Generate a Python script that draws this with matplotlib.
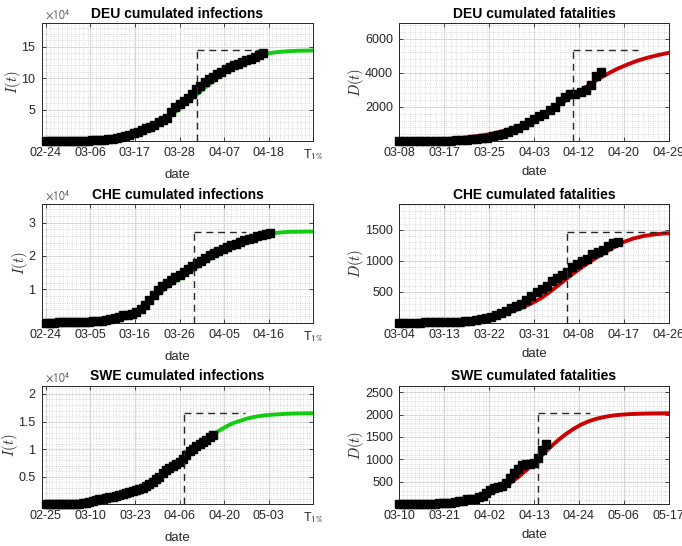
import numpy as np
import matplotlib.pyplot as plt
from matplotlib.ticker import MultipleLocator, AutoMinorLocator, FuncFormatter

plt.rcParams['font.family'] = ['Liberation Sans', 'DejaVu Sans']

T1 = r'T$_{1\%}$'

# ---- DEU (infections: days from 02-24, fatalities: days from 03-08)
deu_inf = [16, 18, 21, 26, 53, 130, 150, 200, 400, 600, 800, 1000, 1200, 1600, 2000,
           3000, 4000, 5500, 7000, 8500, 10000, 12500, 15000, 18000, 20500, 23000, 26000,
           30000, 33000, 37000, 46000, 54000, 59000, 63000, 68000, 74000, 82000, 88000,
           94000, 98000, 102000, 106000, 110000, 114000, 118000, 121000, 123000, 125000,
           128000, 130000, 133000, 136000, 139000]
deu_inf_fit_days = list(range(0, 65, 2))
deu_inf_fit = [200, 300, 400, 600, 800, 1100, 1600, 2500, 4000, 6000, 8500, 12000, 17000,
               23500, 31500, 41000, 51000, 62000, 73000, 84000, 95000, 105000, 114000,
               122000, 128500, 133500, 137500, 140000, 141500, 142500, 143200, 143500, 143700]
deu_inf_ticks = ['02-24', '03-06', '03-17', '03-28', '04-07', '04-18', T1]

deu_fat = [0, 2, 2, 3, 3, 7, 9, 11, 17, 24, 28, 44, 67, 84, 94, 123, 157, 206, 267, 342,
           433, 533, 645, 775, 920, 1107, 1275, 1444, 1584, 1810, 2016, 2349, 2607, 2767,
           2736, 2871, 2994, 3294, 3804, 4052]
deu_fat_fit_days = list(range(0, 53, 2))
deu_fat_fit = [30, 40, 55, 75, 100, 135, 185, 250, 330, 440, 585, 765, 990, 1265, 1590,
               1955, 2350, 2760, 3170, 3560, 3910, 4230, 4490, 4720, 4900, 5050, 5180]
deu_fat_ticks = ['03-08', '03-17', '03-25', '04-03', '04-12', '04-20', '04-29']

# ---- CHE (infections from 02-24, fatalities from 03-04)
che_inf = [10, 10, 20, 30, 40, 60, 80, 100, 150, 200, 250, 350, 450, 600, 800, 1100, 1300,
           1800, 2200, 2300, 2700, 3100, 4000, 5300, 6800, 8400, 9800, 10900, 12000, 12900,
           13600, 14300, 15100, 16000, 16900, 17800, 18600, 19300, 20200, 20900, 21500,
           22100, 22600, 23200, 23700, 24200, 24700, 25200, 25500, 25900, 26200, 26500, 26800]
che_inf_fit_days = list(range(0, 63, 2))
che_inf_fit = [30, 50, 80, 130, 200, 350, 600, 1000, 1600, 2200, 3000, 4200, 6200, 8400,
               10500, 12300, 14000, 15700, 17400, 19000, 20500, 22000, 23300, 24500, 25500,
               26200, 26700, 27000, 27200, 27250, 27280, 27300]
che_inf_ticks = ['02-24', '03-05', '03-16', '03-26', '04-05', '04-16', T1]

che_fat = [1, 1, 1, 1, 1, 2, 3, 3, 4, 7, 11, 13, 14, 27, 28, 41, 54, 75, 98, 120, 153, 191,
           231, 264, 300, 359, 433, 488, 536, 591, 666, 715, 765, 821, 895, 948, 1002, 1036,
           1106, 1138, 1174, 1239, 1281, 1300]
che_fat_fit_days = list(range(0, 53, 2)) + [53]
che_fat_fit = [3, 5, 7, 10, 15, 22, 32, 45, 65, 92, 128, 175, 235, 310, 400, 520, 650, 780,
               900, 1010, 1110, 1210, 1300, 1360, 1400, 1425, 1442, 1446]
che_fat_ticks = ['03-04', '03-13', '03-22', '03-31', '04-08', '04-17', '04-26']

# ---- SWE (infections from 02-25, fatalities from 03-10)
swe_inf = [1, 1, 1, 7, 7, 12, 14, 15, 30, 35, 60, 100, 200, 350, 500, 700, 900, 1000, 1100,
           1200, 1300, 1450, 1600, 1800, 2000, 2200, 2400, 2600, 2800, 3000, 3300, 3600,
           4000, 4500, 5000, 5700, 6200, 6600, 6900, 7200, 7600, 8100, 9000, 9600, 10000,
           10500, 10900, 11200, 11700, 12200, 12600]
swe_inf_fit_days = list(range(0, 81, 2))
swe_inf_fit = [40, 50, 70, 100, 130, 180, 240, 330, 450, 600, 800, 1050, 1400, 1800, 2300,
               3000, 3800, 4700, 5700, 6800, 7800, 8800, 9800, 10800, 11700, 12600, 13400,
               14100, 14700, 15100, 15500, 15800, 16000, 16150, 16250, 16330, 16400, 16440,
               16470, 16490, 16500]
swe_inf_ticks = ['02-25', '03-10', '03-23', '04-06', '04-20', '05-03', T1]

swe_fat = [0, 1, 1, 1, 2, 3, 6, 7, 10, 11, 16, 20, 21, 25, 36, 62, 77, 105, 105, 110, 146,
           180, 239, 308, 358, 373, 401, 477, 591, 687, 793, 870, 887, 899, 919, 1033, 1203,
           1333]
swe_fat_fit_days = list(range(0, 69, 2))
swe_fat_fit = [5, 7, 10, 15, 22, 32, 45, 63, 85, 115, 150, 200, 270, 360, 470, 600, 750,
               920, 1090, 1260, 1420, 1560, 1680, 1780, 1855, 1910, 1950, 1978, 1996, 2008,
               2016, 2021, 2024, 2026, 2027]
swe_fat_ticks = ['03-10', '03-21', '04-02', '04-13', '04-24', '05-06', '05-17']

# plateau K, time of vertical marker, end of horizontal marker (days)
plateau = [143700, 5317, 27300, 1473, 16500, 2028]
t_mark = [36.1, 33.5, 34.4, 33.0, 41.3, 34.9]
t_mark_end = [51.2, 46.0, 46.4, 52.4, 59.6, 48.2]
spans = [64, 52, 62, 53, 80, 68]

yticks = [[5e4, 10e4, 15e4], [2000, 4000, 6000], [1e4, 2e4, 3e4],
          [500, 1000, 1500], [0.5e4, 1e4, 1.5e4, 2e4], [500, 1000, 1500, 2000, 2500]]

panels = [
    ('DEU cumulated infections', deu_inf, deu_inf_fit_days, deu_inf_fit, deu_inf_ticks, '#11cc11', True),
    ('DEU cumulated fatalities', deu_fat, deu_fat_fit_days, deu_fat_fit, deu_fat_ticks, '#cc0000', False),
    ('CHE cumulated infections', che_inf, che_inf_fit_days, che_inf_fit, che_inf_ticks, '#11cc11', True),
    ('CHE cumulated fatalities', che_fat, che_fat_fit_days, che_fat_fit, che_fat_ticks, '#cc0000', False),
    ('SWE cumulated infections', swe_inf, swe_inf_fit_days, swe_inf_fit, swe_inf_ticks, '#11cc11', True),
    ('SWE cumulated fatalities', swe_fat, swe_fat_fit_days, swe_fat_fit, swe_fat_ticks, '#cc0000', False),
]

fig = plt.figure(figsize=(6.82, 5.46), dpi=100)
rows = [(0.7417, 0.2156), (0.4092, 0.2167), (0.0769, 0.2161)]
cols = [(0.0611, 0.3983), (0.5855, 0.3950)]
gc = '#262626'

for i, (title, data, fdays, fit, xlabels, col, is_inf) in enumerate(panels):
    b, h = rows[i // 2]
    l, w = cols[i % 2]
    ax = fig.add_axes([l, b, w, h])
    K = plateau[i]
    T = spans[i]

    ax.plot(fdays, fit, color=col, lw=2.8, zorder=3)
    ax.plot(np.arange(len(data)), data, 's', color='k', ms=6.3, mec='k',
            zorder=4, clip_on=False)
    ax.plot([t_mark[i], t_mark[i]], [0, K], '--', color=gc, lw=1.0, zorder=5,
            dashes=(5, 3.5))
    ax.plot([t_mark[i], t_mark_end[i]], [K, K], '--', color=gc, lw=1.0, zorder=5,
            dashes=(5, 3.5))

    x0 = -T / 66.0 if is_inf else 0
    ax.set_xlim(x0, T)
    ax.set_ylim(0, 1.3 * K)
    ax.set_xticks(np.linspace(0, T, 7))
    ax.set_xticklabels(xlabels)
    ax.set_yticks(yticks[i])
    if is_inf:
        ax.yaxis.set_major_formatter(FuncFormatter(lambda v, p: f'{v / 1e4:g}'))
        ax.text(0.012, 1.012, r'$\times10^{4}$', transform=ax.transAxes, fontsize=8.5,
                color='#555555', math_fontfamily='stixsans', ha='left', va='bottom')
    for lab in ax.get_xticklabels():
        lab.set_math_fontfamily('stixsans')

    ax.xaxis.set_minor_locator(MultipleLocator(1))
    ax.yaxis.set_minor_locator(AutoMinorLocator(5))
    ax.grid(which='major', color='#d8d8d8', lw=0.7, ls='-')
    ax.grid(which='minor', color='#bcbcbc', lw=0.5, ls=(0, (1, 2.2)))
    ax.set_axisbelow(True)

    ax.tick_params(which='major', direction='in', top=True, right=True, length=3,
                   width=0.6, colors=gc, labelsize=9, pad=4.5)
    ax.tick_params(which='minor', length=0)
    for s in ax.spines.values():
        s.set_color(gc)
        s.set_linewidth(0.7)

    ax.set_title(title, fontsize=10, fontweight='bold', pad=4)
    ax.set_xlabel('date', fontsize=9.5, color=gc, labelpad=5)
    ax.set_ylabel(r'$I(t)$' if is_inf else r'$D(t)$', fontsize=10.5, color=gc,
                  math_fontfamily='cm', labelpad=-1)

fig.savefig('out.png', dpi=100)
